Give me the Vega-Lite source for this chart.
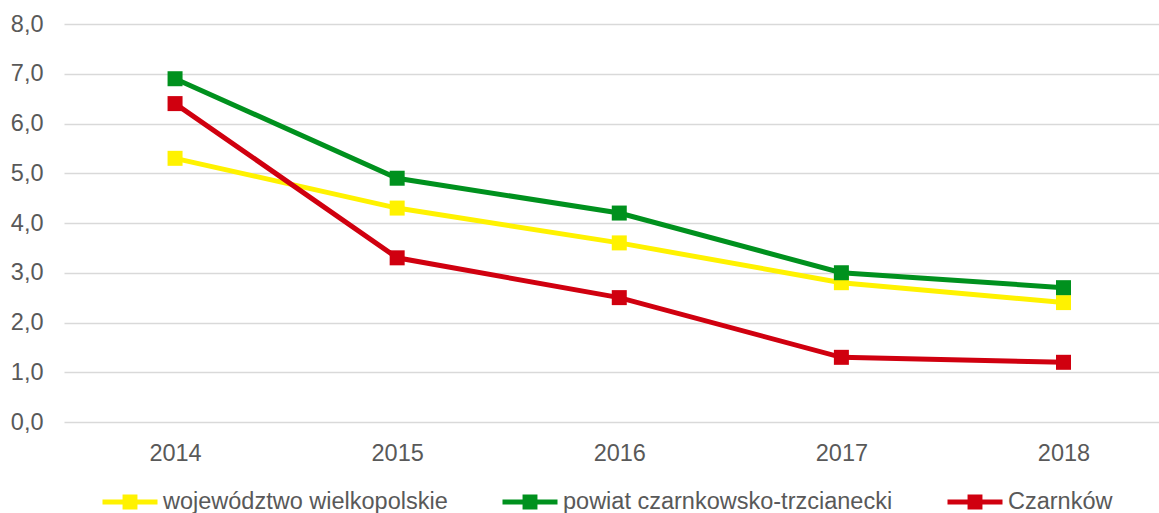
{
  "$schema": "https://vega.github.io/schema/vega-lite/v6.json",
  "width": 1095,
  "height": 398,
  "autosize": "none",
  "padding": {"left": 64, "top": 24, "right": 0, "bottom": 91},
  "background": "white",
  "config": {
    "view": {"stroke": null},
    "font": "Liberation Sans"
  },
  "data": {
    "values": [
      {"rok": 2014, "seria": "województwo wielkopolskie", "wartosc": 5.3},
      {"rok": 2015, "seria": "województwo wielkopolskie", "wartosc": 4.3},
      {"rok": 2016, "seria": "województwo wielkopolskie", "wartosc": 3.6},
      {"rok": 2017, "seria": "województwo wielkopolskie", "wartosc": 2.8},
      {"rok": 2018, "seria": "województwo wielkopolskie", "wartosc": 2.4},
      {"rok": 2014, "seria": "powiat czarnkowsko-trzcianecki", "wartosc": 6.9},
      {"rok": 2015, "seria": "powiat czarnkowsko-trzcianecki", "wartosc": 4.9},
      {"rok": 2016, "seria": "powiat czarnkowsko-trzcianecki", "wartosc": 4.2},
      {"rok": 2017, "seria": "powiat czarnkowsko-trzcianecki", "wartosc": 3.0},
      {"rok": 2018, "seria": "powiat czarnkowsko-trzcianecki", "wartosc": 2.7},
      {"rok": 2014, "seria": "Czarnków", "wartosc": 6.4},
      {"rok": 2015, "seria": "Czarnków", "wartosc": 3.3},
      {"rok": 2016, "seria": "Czarnków", "wartosc": 2.5},
      {"rok": 2017, "seria": "Czarnków", "wartosc": 1.3},
      {"rok": 2018, "seria": "Czarnków", "wartosc": 1.2}
    ]
  },
  "encoding": {
    "x": {
      "field": "rok", "type": "quantitative",
      "scale": {"domain": [2013.5, 2018.43], "nice": false, "zero": false},
      "axis": {
        "title": null, "values": [2014, 2015, 2016, 2017, 2018], "format": "d",
        "grid": false, "domain": false, "ticks": false,
        "labelFontSize": 23.5, "labelColor": "#595959", "labelPadding": 19, "labelFont": "Liberation Sans"
      }
    },
    "y": {
      "field": "wartosc", "type": "quantitative",
      "scale": {"domain": [0, 8], "nice": false},
      "axis": {
        "title": null, "values": [0, 1, 2, 3, 4, 5, 6, 7, 8],
        "labelExpr": "replace(format(datum.value, '.1f'), '.', ',')",
        "grid": true, "gridColor": "#D9D9D9", "gridWidth": 1.5,
        "domain": false, "ticks": false,
        "labelFontSize": 23.5, "labelColor": "#595959", "labelPadding": 21, "labelFont": "Liberation Sans"
      }
    },
    "color": {
      "field": "seria", "type": "nominal",
      "scale": {
        "domain": ["województwo wielkopolskie", "powiat czarnkowsko-trzcianecki", "Czarnków"],
        "range": ["#FFF200", "#00911E", "#D0000F"]
      },
      "legend": {
        "title": null, "orient": "none", "direction": "horizontal",
        "legendX": 36, "legendY": 448,
        "padding": 0,
        "symbolType": "M-1,0L1,0M-0.18,-0.18L0.18,-0.18L0.18,0.18L-0.18,0.18Z",
        "symbolSize": 3025, "symbolStrokeWidth": 5, "symbolOpacity": 1,
        "labelFontSize": 23.5, "labelColor": "#595959", "labelFont": "Liberation Sans",
        "labelOffset": 3, "columnPadding": 44, "labelLimit": 600,
        "encode": {
          "symbols": {"update": {
            "stroke": {"scale": "color", "field": "value"},
            "fill": {"scale": "color", "field": "value"},
            "strokeWidth": {"value": 5},
            "size": {"value": 3025},
            "shape": {"value": "M-1,0L1,0M-0.18,-0.18L0.18,-0.18L0.18,0.18L-0.18,0.18Z"}
          }}
        }
      }
    }
  },
  "layer": [
    {
      "mark": {"type": "line", "strokeWidth": 5}
    },
    {
      "mark": {"type": "point", "shape": "square", "filled": true, "size": 225, "opacity": 1}
    }
  ]
}
